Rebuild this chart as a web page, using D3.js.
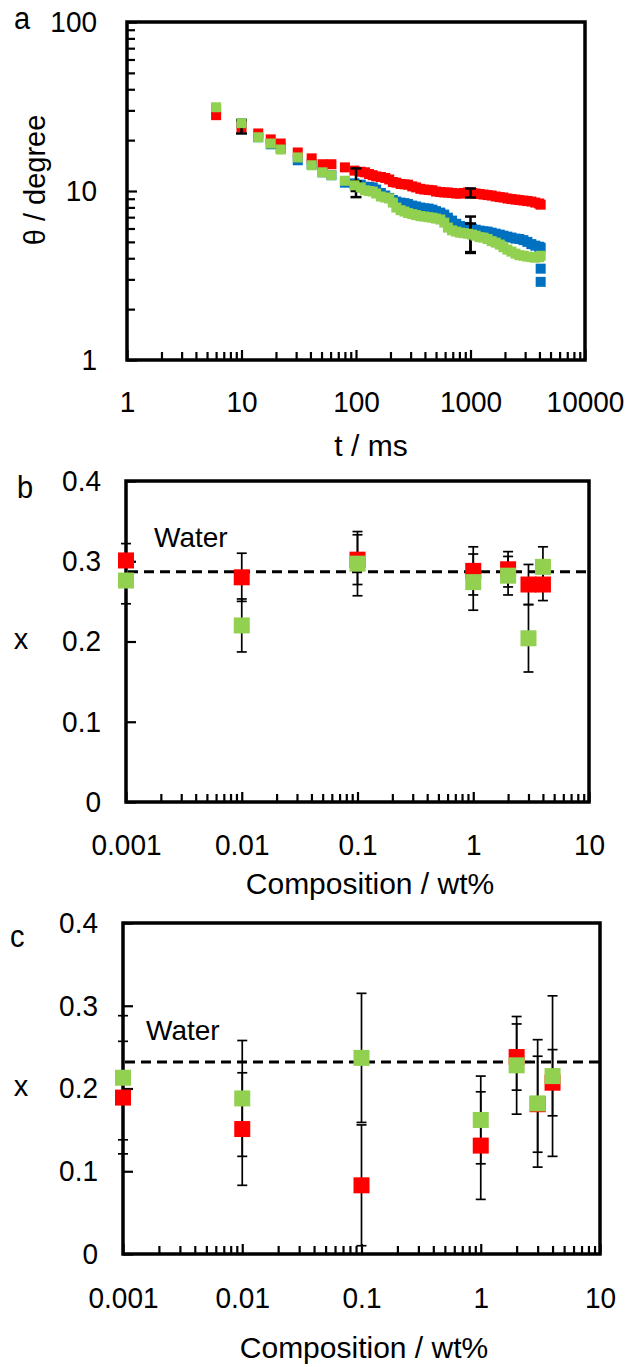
<!DOCTYPE html>
<html>
<head>
<meta charset="utf-8">
<script src="https://cdn.jsdelivr.net/npm/d3@7"></script>
<style>
body { margin: 0; background: #fff; }
svg { display: block; }
text { font-family: "Liberation Sans", Arial, sans-serif; fill: #000; }
</style>
</head>
<body>
<svg id="chart" width="627" height="1367"></svg>
<script>
// ---- panel a : contact angle vs time ----
var timeMs = [6, 10, 14, 18, 22, 31, 41, 51, 61, 80, 97,
	110, 120, 130, 140, 150, 165, 180, 195, 210, 225,
	245, 265, 285, 310, 335, 365, 395, 430, 465, 500,
	545, 590, 635, 690, 750, 810, 875, 950, 1030, 1110,
	1200, 1300, 1410, 1530, 1660, 1800, 1940, 2100, 2280, 2470,
	2670, 2900, 3140, 3400, 3680, 3980, 4100];
var thetaRed = [28.1, 23.8, 21.9, 20.2, 19.1, 16.9, 15.6, 14.4, 14.4, 13.8, 13.2,
	13.0, 12.9, 12.6, 12.4, 12.2, 12.1, 11.95, 11.7, 11.3, 11.2,
	11.0, 10.95, 10.9, 10.65, 10.5, 10.3, 10.2, 10.15, 10.1, 9.93,
	9.86, 9.80, 9.80, 9.73, 9.66, 9.66, 9.73, 9.80, 9.73, 9.66,
	9.6, 9.53, 9.46, 9.40, 9.28, 9.2, 9.15, 9.03, 8.96, 8.9,
	8.84, 8.78, 8.72, 8.66, 8.54, 8.43, 8.3];
var thetaBlue = [30.5, 25.2, 20.8, 18.9, 17.9, 15.2, 14.4, 12.9, 12.4, 11.2, 11.1,
	10.9, 10.6, 10.55, 10.5, 10.2, 9.73, 9.4, 9.1, 8.84, 8.66,
	8.54, 8.48, 8.37, 8.2, 8.1, 7.98, 7.9, 7.87, 7.76, 7.6,
	7.45, 7.25, 6.95, 6.68, 6.4, 6.2, 6.13, 6.07, 5.99, 5.9,
	5.83, 5.78, 5.75, 5.67, 5.59, 5.52, 5.44, 5.37, 5.30, 5.23,
	5.2, 5.12, 5.0, 4.85, 4.75, 4.68, 4.62];
var thetaGreen = [31.3, 25.2, 20.8, 19.1, 17.6, 15.8, 14.2, 12.9, 12.4, 11.5, 10.8,
	10.5, 10.1, 10.0, 9.93, 9.66, 9.28, 9.15, 9.03, 8.54, 7.98,
	7.7, 7.56, 7.4, 7.3, 7.2, 7.1, 7.06, 7.0, 6.95, 6.87,
	6.78, 6.5, 6.07, 5.85, 5.75, 5.67, 5.63, 5.59, 5.52, 5.44,
	5.33, 5.30, 5.2, 5.05, 4.95, 4.82, 4.65, 4.50, 4.38, 4.26,
	4.17, 4.14, 4.09, 4.06, 4.03, 4.06, 4.14];
// two last blue readings that drop off
var blueDropT = [4100, 4100];
var blueDropV = [3.47, 2.90];
// error bars of panel a
var errAT = [10, 100, 100, 1000, 1000, 1000];
var errALo = [21.9, 9.2, 10.0, 9.15, 4.3, 4.35];
var errAHi = [26.2, 11.4, 13.6, 10.35, 7.06, 6.42];
var ticksA_x = [1, 10, 100, 1000, 10000];
var ticksA_y = [1, 10, 100];

// ---- panels b and c : x vs composition ----
var compositionWt = [0.001, 0.01, 0.1, 1, 2, 3, 4];
var xbRed = [0.301, 0.280, 0.302, 0.288, 0.290, 0.271, 0.271];
var xbRedErr = [0.021, 0.030, 0.031, 0.030, 0.022, 0.025, 0.020];
var xbGreen = [0.276, 0.220, 0.297, 0.274, 0.282, 0.204, 0.293];
var xbGreenErr = [0.029, 0.033, 0.040, 0.035, 0.024, 0.042, 0.025];
var waterB = 0.287;

var xcRed = [0.189, 0.151, 0.083, 0.131, 0.238, 0.181, 0.207];
var xcRedErr = [0.068, 0.068, 0.073, 0.065, 0.040, 0.058, 0.040];
var xcGreen = [0.213, 0.188, 0.237, 0.162, 0.228, 0.182, 0.215];
var xcGreenErr = [0.075, 0.070, 0.078, 0.053, 0.059, 0.077, 0.097];
var waterC = 0.232;

var ticksBC_x = [0.001, 0.01, 0.1, 1, 10];
var ticksBC_y = [0, 0.1, 0.2, 0.3, 0.4];

var RED = '#ff0000', GREEN = '#92d050', BLUE = '#0070c0';
var FS = 28;   // tick label size
var SY = 1.05; // tick digits in the figure are drawn slightly tall

var svg = d3.select('#chart');

function minorLog(domain){
	var out = [];
	var lo = Math.round(Math.log10(domain[0])), hi = Math.round(Math.log10(domain[1]));
	for (var d = lo; d < hi; d++)
		for (var k = 2; k <= 9; k++)
			out.push(k*Math.pow(10, d));
	return out;
}

function text(x, y, str, size, anchor, stretch){
	return svg.append('text')
		.attr('transform', 'translate('+x+','+y+') scale(1,'+(stretch || 1)+')')
		.attr('font-size', size)
		.attr('text-anchor', anchor || 'start')
		.text(str);
}

function panel(cfg){
	var x = d3.scaleLog().domain(cfg.xDomain).range([cfg.l, cfg.r]);
	var y = (cfg.yLog ? d3.scaleLog() : d3.scaleLinear()).domain(cfg.yDomain).range([cfg.b, cfg.t]);
	var g = svg.append('g');

	// minor ticks (inward)
	g.append('g').attr('transform', 'translate(0,'+cfg.b+')')
		.call(d3.axisBottom(x).tickValues(minorLog(cfg.xDomain)).tickSize(-8).tickFormat(''));
	if (cfg.yLog)
		g.append('g').attr('transform', 'translate('+cfg.l+',0)')
			.call(d3.axisLeft(y).tickValues(minorLog(cfg.yDomain)).tickSize(-8).tickFormat(''));

	// major ticks + labels
	g.append('g').attr('transform', 'translate(0,'+cfg.b+')')
		.call(d3.axisBottom(x).tickValues(cfg.xTicks).tickSizeInner(-10).tickSizeOuter(0)
			.tickPadding(cfg.xPad).tickFormat(function(d){ return String(d); }));
	g.append('g').attr('transform', 'translate('+cfg.l+',0)')
		.call(d3.axisLeft(y).tickValues(cfg.yTicks).tickSizeInner(-10).tickSizeOuter(0)
			.tickPadding(cfg.yPad).tickFormat(function(d){ return String(d); }));
	g.selectAll('.domain').remove();
	g.selectAll('.tick line').attr('stroke', '#000').attr('stroke-width', 2.2);
	g.selectAll('.tick text')
		.attr('font-size', FS)
		.attr('font-family', '"Liberation Sans", Arial, sans-serif')
		.attr('fill', '#000')
		.attr('transform', 'scale(1,'+SY+')');

	g.append('rect')
		.attr('x', cfg.l).attr('y', cfg.t)
		.attr('width', cfg.r-cfg.l).attr('height', cfg.b-cfg.t)
		.attr('fill', 'none').attr('stroke', '#000').attr('stroke-width', 3.5);

	return {x: x, y: y, g: g};
}

function squares(p, xs, ys, color, size){
	p.g.append('g').selectAll('rect')
		.data(xs.map(function(d, i){ return [d, ys[i]]; }))
		.enter()
		.append('rect')
		.attr('x', function(d){ return p.x(d[0])-size/2; })
		.attr('y', function(d){ return p.y(d[1])-size/2; })
		.attr('width', size).attr('height', size)
		.attr('fill', color);
}

function errorBars(p, xs, lo, hi, capW, lw){
	var data = xs.map(function(d, i){ return {x: d, lo: lo[i], hi: hi[i]}; });
	var eg = p.g.append('g').attr('stroke', '#000').attr('stroke-width', lw);
	eg.selectAll('line.v').data(data).enter().append('line')
		.attr('x1', function(d){ return p.x(d.x); }).attr('x2', function(d){ return p.x(d.x); })
		.attr('y1', function(d){ return p.y(d.lo); }).attr('y2', function(d){ return p.y(d.hi); });
	['lo', 'hi'].forEach(function(k){
		eg.selectAll('line.'+k).data(data).enter().append('line')
			.attr('x1', function(d){ return p.x(d.x)-capW/2; }).attr('x2', function(d){ return p.x(d.x)+capW/2; })
			.attr('y1', function(d){ return p.y(d[k]); }).attr('y2', function(d){ return p.y(d[k]); });
	});
}

// ---------------- panel a ----------------
var pa = panel({l: 127, r: 585, t: 22, b: 360, xDomain: [1, 10000], yDomain: [1, 100], yLog: true,
	xTicks: ticksA_x, yTicks: ticksA_y, xPad: 30, yPad: 30});
squares(pa, timeMs, thetaBlue, BLUE, 10);
squares(pa, blueDropT, blueDropV, BLUE, 10);
squares(pa, timeMs, thetaRed, RED, 10);
errorBars(pa, errAT, errALo, errAHi, 11, 2.5);
squares(pa, timeMs, thetaGreen, GREEN, 10);

text(14, 29, 'a', 29, 'start', SY);
text(371, 456, 't  / ms', 30, 'middle');
svg.append('text')
	.attr('transform', 'translate(45,180) rotate(-90)')
	.attr('font-size', 29).attr('text-anchor', 'middle')
	.text('\u03b8 / degree');

// ---------------- panels b, c ----------------
function compositionPanel(box, red, redErr, green, greenErr, water, waterPos, title, xPad){
	var p = panel({l: box[0], r: box[1], t: box[2], b: box[3], xDomain: [0.001, 10], yDomain: [0, 0.4],
		xTicks: ticksBC_x, yTicks: ticksBC_y, xPad: xPad, yPad: 25});
	errorBars(p, compositionWt, red.map(function(v, i){ return v-redErr[i]; }),
		red.map(function(v, i){ return v+redErr[i]; }), 10, 1.7);
	errorBars(p, compositionWt, green.map(function(v, i){ return v-greenErr[i]; }),
		green.map(function(v, i){ return v+greenErr[i]; }), 10, 1.7);
	p.g.append('line')
		.attr('x1', box[0]+2).attr('x2', box[1])
		.attr('y1', p.y(water)).attr('y2', p.y(water))
		.attr('stroke', '#000').attr('stroke-width', 3).attr('stroke-dasharray', '10,6');
	squares(p, compositionWt, red, RED, 16);
	squares(p, compositionWt, green, GREEN, 16);

	text(waterPos[0], waterPos[1], 'Water', 28);
	text(21, p.y(0.2)+7, 'x', 29, 'middle');
	text(title[0], title[1], 'Composition / wt%', 30, 'middle');
	return p;
}

compositionPanel([126, 589, 481, 802], xbRed, xbRedErr, xbGreen, xbGreenErr, waterB, [154, 547], [370, 894], 31);
text(17, 498, 'b', 29, 'start', SY);

compositionPanel([123, 600, 923, 1254], xcRed, xcRedErr, xcGreen, xcGreenErr, waterC, [146, 1040], [364, 1358], 32);
text(10, 947, 'c', 29, 'start', SY);
</script>
</body>
</html>
